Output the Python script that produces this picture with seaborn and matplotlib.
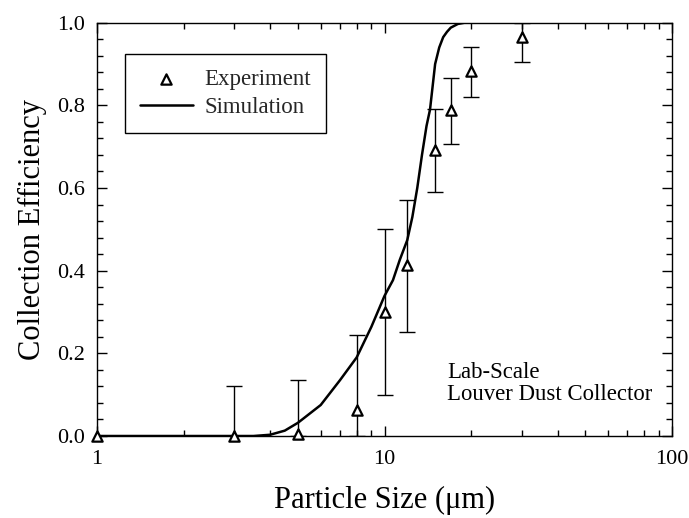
import numpy as np
import pandas as pd
import matplotlib
matplotlib.use("Agg")
import matplotlib.pyplot as plt
import seaborn as sns
from matplotlib.ticker import FixedLocator, MultipleLocator, LogLocator, NullFormatter

# Experiment data
exp_x = [1, 3, 5, 8, 10, 12, 15, 17, 20, 30]
exp_y = [0.0, 0.0, 0.005, 0.063, 0.30, 0.414, 0.692, 0.789, 0.884, 0.966]
exp_lo = [0.0, 0.0, 0.0, 0.0, 0.10, 0.251, 0.590, 0.706, 0.821, 0.906]
exp_hi = [0.0, 0.121, 0.135, 0.244, 0.50, 0.571, 0.791, 0.867, 0.940, 1.0]

# Simulation curve
sim_x = [1, 2, 3, 3.5, 4, 4.5, 5, 6, 7, 8, 9, 10, 10.7, 11.3, 12, 12.5, 13, 13.5, 14, 14.4, 15, 15.5, 16, 16.5, 17, 18, 19, 20, 30, 50, 100]
sim_y = [0.0, 0.0, 0.0, 0.0, 0.003, 0.013, 0.032, 0.075, 0.135, 0.19, 0.264, 0.339, 0.377, 0.426, 0.474, 0.53, 0.60, 0.68, 0.75, 0.79, 0.90, 0.94, 0.965, 0.978, 0.988, 0.997, 1.0, 1.0, 1.0, 1.0, 1.0]

x_ticks = [1, 10, 100]
x_tick_labels = ["1", "10", "100"]
y_ticks = [0.0, 0.2, 0.4, 0.6, 0.8, 1.0]
y_tick_labels = ["0.0", "0.2", "0.4", "0.6", "0.8", "1.0"]

sns.set_theme(style="ticks")
plt.rcParams["font.family"] = ["Liberation Serif", "DejaVu Serif"]

fig = plt.figure(figsize=(6.89, 5.18), dpi=100)
ax = fig.add_axes([97/689, 1-436/518, (672-97)/689, (436-22.7)/518])

sim_df = pd.DataFrame({"x": sim_x, "y": sim_y})
exp_df = pd.DataFrame({"x": exp_x, "y": exp_y})

sns.lineplot(data=sim_df, x="x", y="y", ax=ax, color="black", lw=1.8, label="Simulation", zorder=3)

yerr = [np.array(exp_y) - np.array(exp_lo), np.array(exp_hi) - np.array(exp_y)]
ax.errorbar(exp_x, exp_y, yerr=yerr, fmt="none", ecolor="black", elinewidth=1.0,
            capsize=6, capthick=1.0, zorder=2)
sns.scatterplot(data=exp_df, x="x", y="y", ax=ax, marker="^", s=55,
                facecolor="white", edgecolor="black", linewidth=1.6,
                label="Experiment", zorder=4, clip_on=False)

ax.set_xscale("log")
ax.set_xlim(1, 100)
ax.set_ylim(0, 1.0)
ax.xaxis.set_major_locator(FixedLocator(x_ticks))
ax.set_xticklabels(x_tick_labels)
ax.xaxis.set_minor_locator(LogLocator(base=10, subs=np.arange(2, 10)))
ax.xaxis.set_minor_formatter(NullFormatter())
ax.yaxis.set_major_locator(FixedLocator(y_ticks))
ax.set_yticklabels(y_tick_labels)
ax.yaxis.set_minor_locator(MultipleLocator(0.04))

ax.tick_params(which="both", direction="in", top=True, right=True, color="black",
               width=1.0, labelsize=16, labelcolor="black")
ax.tick_params(which="major", length=7)
ax.tick_params(axis="x", which="major", pad=10)
ax.tick_params(axis="y", which="major", pad=9)
ax.tick_params(which="minor", length=4)
for s in ax.spines.values():
    s.set_color("black")
    s.set_linewidth(1.0)

ax.set_xlabel("Particle Size (μm)", fontsize=22, color="black", labelpad=12)
ax.set_ylabel("Collection Efficiency", fontsize=22, color="black", labelpad=7)

handles, labels = ax.get_legend_handles_labels()
order = [labels.index("Experiment"), labels.index("Simulation")]
leg = ax.legend([handles[i] for i in order], [labels[i] for i in order],
                loc="upper left", bbox_to_anchor=(0.0487, 0.924), borderaxespad=0,
                fontsize=16.5, frameon=True, fancybox=False, edgecolor="black", framealpha=1,
                borderpad=0.65, handlelength=2.3, handletextpad=0.5, labelspacing=0.3)
leg.get_frame().set_linewidth(1.0)

ax.text(0.609, 0.18, "Lab-Scale\nLouver Dust Collector", transform=ax.transAxes,
        fontsize=16.4, va="top", ha="left", color="black", linespacing=1.1)

fig.savefig("out.png", dpi=100)
